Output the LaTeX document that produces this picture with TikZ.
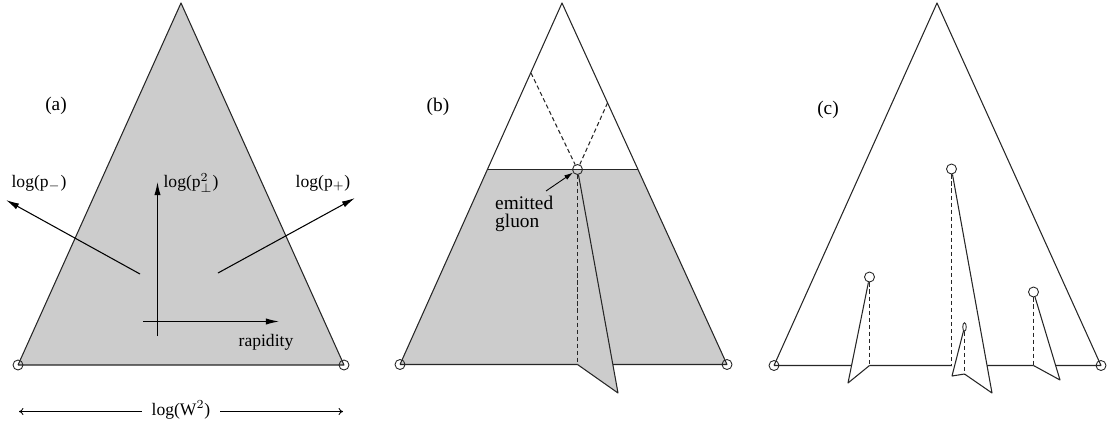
\documentclass[tikz,border=0pt]{standalone}
\usepackage{fontspec}
\setmainfont{Liberation Serif}
\usetikzlibrary{arrows.meta,shapes.geometric}
\begin{document}
\begin{tikzpicture}[x=0.02cm, y=-0.02cm, every node/.style={font=\fontsize{10}{12}\selectfont},
  edge/.style={line width=0.6pt, black!85, line join=round},
  fold/.style={edge, dash pattern=on 2.4pt off 1.6pt},
  endpt/.style={circle, draw, line width=0.5pt, black!85, minimum size=0.2cm, inner sep=0pt},
  axis/.style={line width=0.6pt, -{Latex[length=7.5pt,width=3.6pt]}},
  span/.style={line width=0.5pt, -{To[length=2.5pt,width=4pt]}},
  tag/.style={font=\fontsize{11}{13}\selectfont}]
  \useasboundingbox (0,0) rectangle (1112,430);
  % Panel (a): full grey triangle with axes
  \coordinate (aTop) at (181,3);
  \coordinate (aLc) at (18,365); \coordinate (aRc) at (344,365);
  \fill[gray!40] (aTop) -- (aLc) -- (aRc) -- cycle;
  \draw[edge] (aLc) -- (aTop) -- (aRc) -- (aLc);
  \node[endpt] (aL) at (aLc) {}; \node[endpt] (aR) at (aRc) {};
  \node[tag] (aLbl) at (56,106) {(a)};
  \coordinate (pmS) at (140,274); \coordinate (pmE) at (6,200);
  \coordinate (ptS) at (157.5,336); \coordinate (ptE) at (157.5,182);
  \coordinate (ppS) at (218,273); \coordinate (ppE) at (355,198);
  \coordinate (ryS) at (143,321.5); \coordinate (ryE) at (279,321.5);
  \draw[axis] (pmS) -- (pmE); \draw[axis] (ptS) -- (ptE);
  \draw[axis] (ppS) -- (ppE); \draw[axis] (ryS) -- (ryE);
  \node (pmLbl) at (39,183) {log(p$_-$)};
  \node (ptLbl) at (191,183) {log(p$_\perp^2$)};
  \node (ppLbl) at (323,183) {log(p$_+$)};
  \node (ryLbl) at (266,342) {rapidity};
  \node[inner xsep=5.5pt] (wLbl) at (181,410) {log(W$^2$)};
  \coordinate (wL) at (19,411.5); \coordinate (wR) at (343,411.5);
  \draw[span] (wLbl.west |- wL) -- (wL); \draw[span] (wLbl.east |- wR) -- (wR);
  % Panel (b): one emitted gluon, its leaf folded out
  \coordinate (bTop) at (562,3);
  \coordinate (bLc) at (400,364.5); \coordinate (bRc) at (727,364.5);
  \coordinate (bCutL) at (487.5,169.5); \coordinate (bCutR) at (637.9,169.5);
  \coordinate (bD1) at (531,73); \coordinate (bD2) at (607.5,103);
  \coordinate (bBase) at (577.5,364.5); \coordinate (bTip) at (618,393);
  \fill[gray!40] (bCutL) -- (bLc) -- (bRc) -- (bCutR) -- cycle;
  \draw[edge] (bLc) -- (bTop) -- (bRc) -- (bLc);
  \draw[edge] (bCutL) -- (bCutR);
  \fill[gray!40] (577.5,169.5) -- (bTip) -- (bBase) -- cycle;
  \node[endpt] (bL) at (bLc) {}; \node[endpt] (bR) at (bRc) {};
  \node[endpt] (bG) at (577.5,169.5) {};
  \node[tag] (bLbl) at (438,107) {(b)};
  \draw[fold] (bD1) -- (bG); \draw[fold] (bD2) -- (bG);
  \draw[fold] (bG) -- (bBase);
  \draw[edge] (bG) -- (bTip) -- (bBase);
  \node[align=left, anchor=west, font=\fontsize{11}{10.5}\selectfont] (gLbl) at (489,214) {emitted\\gluon};
  \coordinate (gArr) at (546,191);
  \draw[line width=0.5pt, -{Latex[length=5pt,width=3pt]}] (gArr) -- (bG);
  % Panel (c): several gluons, one with a secondary emission
  \coordinate (cTop) at (937,3);
  \coordinate (cLc) at (774,365.5); \coordinate (cRc) at (1101,365.5);
  \draw[edge] (cLc) -- (cTop) -- (cRc) -- (cLc);
  \coordinate (c1Base) at (869.5,365.5); \coordinate (c1Tip) at (848,383);
  \coordinate (c2Base) at (951.5,365.5); \coordinate (c2Tip) at (992,393);
  \coordinate (c3Base) at (1033.5,365.5); \coordinate (c3Tip) at (1060,380);
  \coordinate (c4Base) at (964.5,374); \coordinate (c4Tip) at (952,376);
  \fill[white] (869.5,277) -- (c1Tip) -- (c1Base) -- cycle;
  \fill[white] (951.5,169) -- (c2Tip) -- (c2Base) -- cycle;
  \fill[white] (1033.5,292) -- (c3Tip) -- (c3Base) -- cycle;
  \fill[white] (964.5,327) -- (c4Tip) -- (c4Base) -- cycle;
  \node[endpt] (cL) at (cLc) {}; \node[endpt] (cR) at (cRc) {};
  \node[endpt] (c1G) at (869.5,277) {};
  \node[endpt] (c2G) at (951.5,169) {};
  \node[endpt] (c3G) at (1033.5,292) {};
  \node[ellipse, draw, line width=0.5pt, black!85, minimum width=0.07cm, minimum height=0.17cm, inner sep=0pt] (c4G) at (964.5,327) {};
  \node[tag] (cLbl) at (828,110) {(c)};
  \draw[fold] (c1G) -- (c1Base); \draw[edge] (c1G) -- (c1Tip) -- (c1Base);
  \draw[fold] (c2G) -- (c2Base); \draw[edge] (c2G) -- (c2Tip) -- (c4Base);
  \draw[fold] (c3G) -- (c3Base); \draw[edge] (c3G) -- (c3Tip) -- (c3Base);
  \draw[fold] (c4G) -- (c4Base); \draw[edge] (c4G) -- (c4Tip) -- (c4Base);
\end{tikzpicture}
\end{document}
